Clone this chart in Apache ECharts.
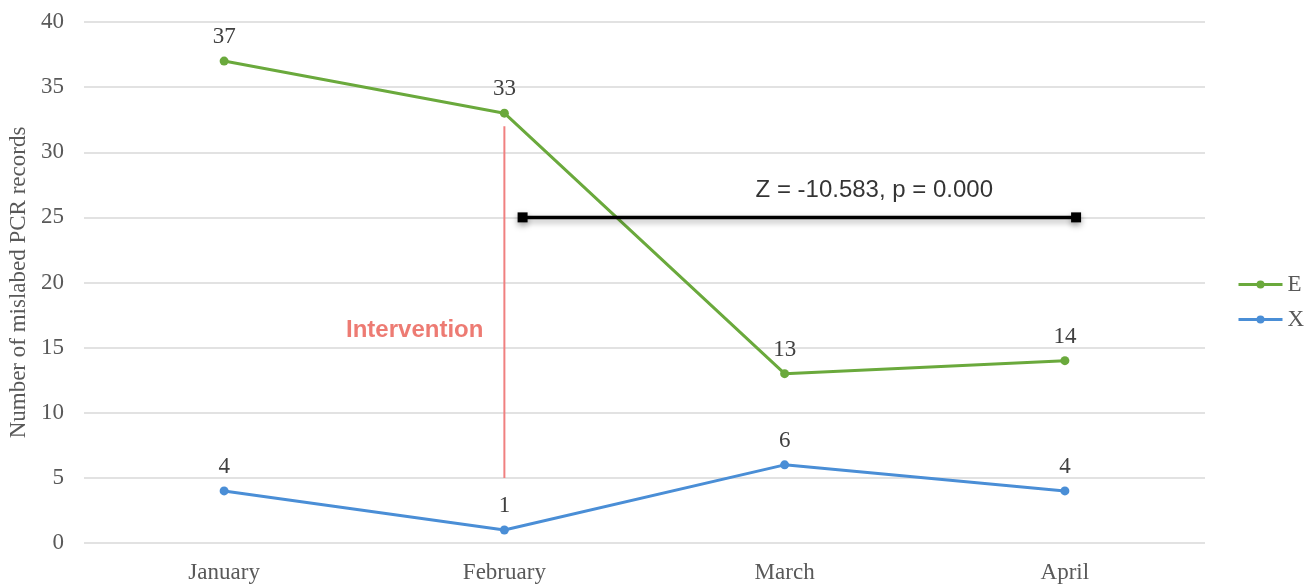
<!DOCTYPE html>
<html>
<head>
<meta charset="utf-8">
<script src="https://cdn.jsdelivr.net/npm/echarts@6/dist/echarts.min.js"></script>
<style>html,body{margin:0;padding:0;background:#fff}#main{width:1312px;height:586px}</style>
</head>
<body>
<div id="main"></div>
<script>
var months = ['January', 'February', 'March', 'April'];
var seriesE = [37, 33, 13, 14];
var seriesX = [4, 1, 6, 4];
// annotations, on a hidden 0..4 value axis (category i sits at i + 0.5)
var interventionLine = [[1.5, 32], [1.5, 5]];
var interventionLabel = [1.5, 16.3];
var testLine = [[1.565, 25], [3.54, 25]];
var testLabel = [2.82, 25];
var testText = 'Z = -10.583, p = 0.000';

var serif = '"Liberation Serif", "Times New Roman", serif';
var sans = '"Liberation Sans", Arial, sans-serif';

var chart = echarts.init(document.getElementById('main'));
var option = {
    animation: false,
    grid: {left: 84, right: 107, top: 22, bottom: 43, containLabel: false, outerBoundsMode: 'none'},
    legend: {
        orient: 'vertical',
        left: 1232,
        top: 268,
        itemGap: 12,
        itemWidth: 44,
        itemHeight: 10,
        lineStyle: {width: 3},
        textStyle: {fontFamily: serif, fontSize: 23, color: '#595959'},
        data: ['E', 'X']
    },
    xAxis: [
        {
            type: 'category',
            data: months,
            boundaryGap: true,
            axisLine: {show: false},
            axisTick: {show: false},
            axisLabel: {fontFamily: serif, fontSize: 23, color: '#595959', margin: 18}
        },
        {
            type: 'value',
            min: 0,
            max: 4,
            show: false
        }
    ],
    yAxis: {
        type: 'value',
        min: 0,
        max: 40,
        interval: 5,
        name: 'Number of mislabed PCR records',
        nameLocation: 'middle',
        nameGap: 52,
        nameTextStyle: {fontFamily: serif, fontSize: 23, color: '#595959'},
        axisLine: {show: false},
        axisTick: {show: false},
        axisLabel: {fontFamily: serif, fontSize: 23, color: '#595959', margin: 20},
        splitLine: {lineStyle: {color: '#d9d9d9', width: 1.5}}
    },
    series: [
        {
            name: 'E',
            type: 'line',
            data: seriesE,
            color: '#6aa93c',
            symbol: 'circle',
            symbolSize: 9,
            lineStyle: {width: 3},
            label: {show: true, position: 'top', distance: 8, fontFamily: serif, fontSize: 23, color: '#404040'}
        },
        {
            name: 'X',
            type: 'line',
            data: seriesX,
            color: '#4a8ed6',
            symbol: 'circle',
            symbolSize: 9,
            lineStyle: {width: 3},
            label: {show: true, position: 'top', distance: 8, fontFamily: serif, fontSize: 23, color: '#404040'}
        },
        {
            type: 'line',
            xAxisIndex: 1,
            data: interventionLine,
            symbol: 'none',
            color: '#f08080',
            lineStyle: {width: 2},
            silent: true
        },
        {
            type: 'scatter',
            xAxisIndex: 1,
            data: [interventionLabel],
            symbolSize: 0,
            label: {
                show: true,
                position: 'left',
                distance: 21,
                formatter: 'Intervention',
                fontFamily: sans,
                fontWeight: 'bold',
                fontSize: 24,
                color: '#e85a50'
            }
        },
        {
            type: 'line',
            xAxisIndex: 1,
            data: testLine,
            symbol: 'rect',
            symbolSize: 10,
            color: '#000',
            lineStyle: {width: 3.5, shadowColor: 'rgba(0,0,0,0.35)', shadowBlur: 6, shadowOffsetY: 3},
            itemStyle: {shadowColor: 'rgba(0,0,0,0.35)', shadowBlur: 6, shadowOffsetY: 3}
        },
        {
            type: 'scatter',
            xAxisIndex: 1,
            data: [testLabel],
            symbolSize: 0,
            label: {
                show: true,
                position: 'top',
                distance: 15,
                formatter: testText,
                fontFamily: sans,
                fontSize: 24,
                color: '#000'
            }
        }
    ]
};
chart.setOption(option);
</script>
</body>
</html>
